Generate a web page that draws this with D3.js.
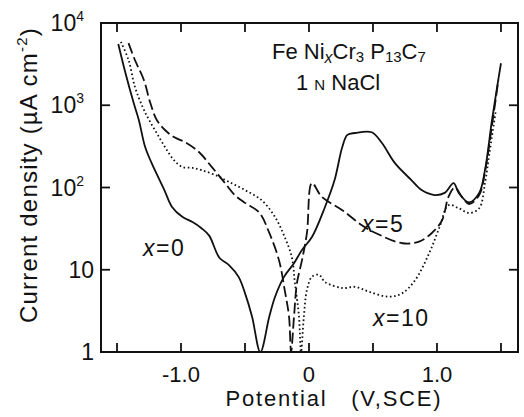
<!DOCTYPE html>
<html>
<head>
<meta charset="utf-8">
<script src="https://cdn.jsdelivr.net/npm/d3@7.9.0/dist/d3.min.js"></script>
<style>
  body { margin: 0; background: #fff; }
  svg { display: block; }
  text { font-family: "Liberation Sans", Arial, sans-serif; fill: #111; }
</style>
</head>
<body>
<div id="chart"></div>
<script>
// potential (V vs SCE) and current density (µA/cm²)
const x0Potential = [-1.49, -1.44, -1.37, -1.33, -1.28, -1.23, -1.13, -1.07, -0.99, -0.91, -0.84, -0.78, -0.70, -0.625, -0.55, -0.50, -0.445, -0.38,
  -0.31, -0.265, -0.195, -0.117, -0.055, 0.023, 0.125, 0.20, 0.26, 0.30, 0.36, 0.49, 0.57, 0.67, 0.80, 0.88, 0.98, 1.06, 1.13, 1.17, 1.25, 1.33, 1.375, 1.43, 1.47, 1.50];
const x0Current = [5560, 2690, 1070, 665, 310, 199, 93, 58, 44, 38, 32, 26, 14, 11.4, 8.2, 5.2, 2.7, 1,
  2.7, 4.7, 8.2, 12, 17.4, 25, 58, 123, 310, 436, 460, 470, 347, 199, 123, 93, 81, 86, 113, 86, 66, 86, 163, 665, 1670, 3240];

const x5Potential = [-1.41, -1.36, -1.29, -1.24, -1.19, -1.125, -1.055, -0.97, -0.86, -0.76, -0.656, -0.58, -0.50, -0.39, -0.31, -0.234, -0.19, -0.156, -0.14,
  -0.117, -0.094, -0.055, -0.016, 0.023, 0.10, 0.26, 0.41, 0.52, 0.73, 0.86, 0.96, 1.04, 1.09, 1.14, 1.195, 1.25, 1.33, 1.375, 1.43, 1.48];
const x5Current = [5700, 3550, 2030, 1070, 665, 500, 410, 357, 270, 178, 113, 81, 65, 50, 28, 13, 5.7, 2.7, 1,
  2.7, 6.9, 13, 28, 113, 77, 53, 35, 28, 21, 22, 28, 40, 77, 100, 77, 63, 81, 155, 575, 2030];

const x10Potential = [-1.47, -1.41, -1.36, -1.30, -1.25, -1.19, -1.125, -1.055, -0.99, -0.91, -0.84, -0.73, -0.625, -0.50, -0.37, -0.266, -0.19, -0.133, -0.11, -0.078, -0.0625,
  -0.04, -0.016, 0.023, 0.078, 0.125, 0.26, 0.36, 0.47, 0.625, 0.73, 0.83, 0.94, 1.02, 1.09, 1.17, 1.25, 1.33, 1.375, 1.41, 1.46];
const x10Current = [5900, 3550, 1670, 955, 665, 460, 310, 215, 178, 173, 163, 141, 117, 93, 70, 44, 25, 14, 6.9, 2.7, 1,
  2.7, 5.7, 8.2, 8.7, 7.1, 6.0, 6.2, 5.4, 4.7, 5.2, 7.5, 16, 33, 61, 56, 49, 56, 113, 263, 870];

const xTicksMajor = [-1.0, 0, 1.0];
const xTickLabels = ['-1.0', '0', '1.0'];
const xTicksMinor = [-1.5, -0.5, 0.5, 1.5];
const yTicks = [1, 10, 100, 1000, 10000];
const yTickExp = ['', '', '2', '3', '4'];

const width = 524, height = 417;
const plot = { left: 101, right: 518, top: 23, bottom: 352 };

const svg = d3.select('#chart').append('svg')
  .attr('width', width).attr('height', height);

const x = d3.scaleLinear().domain([-1.625, 1.633]).range([plot.left, plot.right]);
const y = d3.scaleLog().domain([1, 10000]).range([plot.bottom, plot.top]);

svg.append('clipPath').attr('id', 'clip')
  .append('rect')
  .attr('x', plot.left).attr('y', plot.top)
  .attr('width', plot.right - plot.left).attr('height', plot.bottom - plot.top);

// frame
svg.append('rect')
  .attr('x', plot.left).attr('y', plot.top)
  .attr('width', plot.right - plot.left).attr('height', plot.bottom - plot.top)
  .attr('fill', 'none').attr('stroke', '#111').attr('stroke-width', 2);

// ticks (inward, all four sides)
const allX = xTicksMajor.concat(xTicksMinor);
const tickLen = 9;
const ticks = svg.append('g').attr('stroke', '#111').attr('stroke-width', 1.8);
ticks.selectAll('.xb').data(allX).join('line')
  .attr('x1', (d) => x(d)).attr('x2', (d) => x(d))
  .attr('y1', plot.bottom).attr('y2', plot.bottom - tickLen);
ticks.selectAll('.xt').data(allX).join('line')
  .attr('x1', (d) => x(d)).attr('x2', (d) => x(d))
  .attr('y1', plot.top).attr('y2', plot.top + tickLen);
ticks.selectAll('.yl').data(yTicks.slice(1, 4)).join('line')
  .attr('x1', plot.left).attr('x2', plot.left + tickLen)
  .attr('y1', (d) => y(d)).attr('y2', (d) => y(d));
ticks.selectAll('.yr').data(yTicks.slice(1, 4)).join('line')
  .attr('x1', plot.right).attr('x2', plot.right - tickLen)
  .attr('y1', (d) => y(d)).attr('y2', (d) => y(d));

// tick labels
svg.selectAll('.xl').data(xTicksMajor).join('text')
  .attr('x', (d) => x(d)).attr('y', plot.bottom + 30)
  .attr('text-anchor', 'middle').attr('font-size', 22)
  .text((d, i) => xTickLabels[i]);

const yl = svg.selectAll('.ylab').data(yTicks).join('text')
  .attr('x', (d, i) => (yTickExp[i] ? 84 : 94)).attr('y', (d) => y(d) + 8)
  .attr('text-anchor', 'end').attr('font-size', 23);
yl.append('tspan').text((d) => (d === 1 ? '1' : '10'));
yl.append('tspan').attr('dy', -10).attr('font-size', 14).text((d, i) => yTickExp[i]);

// axis titles
svg.append('text')
  .attr('x', 334).attr('y', 406)
  .attr('text-anchor', 'middle').attr('font-size', 22)
  .attr('letter-spacing', 1.8)
  .attr('xml:space', 'preserve')
  .text('Potential   (V,SCE)');

const yt = svg.append('text')
  .attr('transform', 'translate(37,175) rotate(-90)')
  .attr('text-anchor', 'middle').attr('font-size', 24)
  .attr('letter-spacing', 1.2);
yt.append('tspan').text('Current density (µA cm');
yt.append('tspan').attr('dy', -10).attr('font-size', 15).text('-2');
yt.append('tspan').attr('dy', 10).text(')');

// curves
const line = d3.line()
  .x((d) => x(d[0]))
  .y((d) => y(d[1]))
  .curve(d3.curveCatmullRom.alpha(0.5));

const series = [
  { p: x0Potential, c: x0Current, dash: null, w: 1.8 },
  { p: x5Potential, c: x5Current, dash: '11,4', w: 1.8 },
  { p: x10Potential, c: x10Current, dash: '1.6,2.6', w: 1.8 },
];

svg.append('g').attr('clip-path', 'url(#clip)')
  .selectAll('path').data(series).join('path')
  .attr('d', (s) => line(d3.zip(s.p, s.c)))
  .attr('fill', 'none').attr('stroke', '#111')
  .attr('stroke-width', (s) => s.w)
  .attr('stroke-dasharray', (s) => s.dash);

// legend text
const t1 = svg.append('text').attr('x', 272).attr('y', 59).attr('font-size', 22);
t1.append('tspan').text('Fe Ni');
t1.append('tspan').attr('dy', 4).attr('font-size', 16).attr('font-style', 'italic').text('x');
t1.append('tspan').attr('dy', -4).text('Cr');
t1.append('tspan').attr('dy', 3).attr('font-size', 15).text('3');
t1.append('tspan').attr('dy', -3).text(' P');
t1.append('tspan').attr('dy', 3).attr('font-size', 15).text('13');
t1.append('tspan').attr('dy', -3).text('C');
t1.append('tspan').attr('dy', 3).attr('font-size', 15).text('7');

const t2 = svg.append('text').attr('x', 296).attr('y', 90).attr('font-size', 22)
  .attr('xml:space', 'preserve');
t2.append('tspan').text('1 ');
t2.append('tspan').attr('font-size', 15).text('N');
t2.append('tspan').text(' NaCl');

// curve labels
function curveLabel(px, py, val) {
  const t = svg.append('text').attr('x', px).attr('y', py).attr('font-size', 23)
    .attr('letter-spacing', 1.5);
  t.append('tspan').attr('font-style', 'italic').text('x');
  t.append('tspan').text('=' + val);
}
curveLabel(143, 256, '0');
curveLabel(362, 232, '5');
curveLabel(373, 326, '10');
</script>
</body>
</html>
